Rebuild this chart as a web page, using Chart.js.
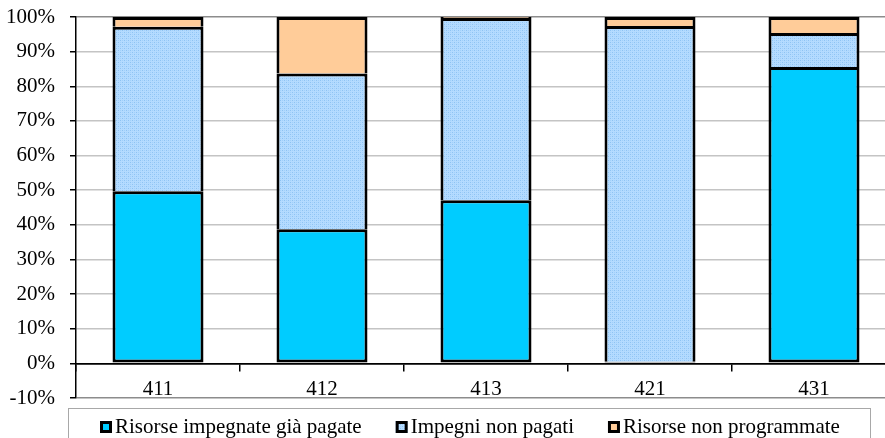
<!DOCTYPE html>
<html><head><meta charset="utf-8">
<script src="https://cdn.jsdelivr.net/npm/chart.js@4"></script>
<style>
html,body{margin:0;padding:0;overflow:hidden;background:#fff;width:885px;height:438px}
#wrap{position:absolute;left:0;top:0;width:896px;height:438px}
</style></head><body>
<div id="wrap"><canvas id="c" width="896" height="438"></canvas></div>
<script>
const categories = ['411', '412', '413', '421', '431'];
const seriesNames = ['Risorse impegnate già pagate', 'Impegni non pagati', 'Risorse non programmate'];
const pagate = [49.7, 38.7, 47.1, 0.5, 85.6];
const nonPagati = [47.5, 45.0, 52.6, 96.9, 9.8];
const nonProgrammate = [2.8, 16.3, 0.3, 2.6, 4.6];
const yTickValues = [-10, 0, 10, 20, 30, 40, 50, 60, 70, 80, 90, 100];

const FONT = '"Liberation Serif", "Times New Roman", serif';
const FSIZE = 21;

function makePattern() {
  const p = document.createElement('canvas');
  p.width = 4; p.height = 4;
  const g = p.getContext('2d');
  g.fillStyle = '#B4DBFF'; g.fillRect(0, 0, 4, 4);
  g.fillStyle = '#8EC3F3';
  g.fillRect(0, 0, 1, 1); g.fillRect(2, 2, 1, 1);
  g.fillStyle = '#A2D0FA';
  g.fillRect(2, 0, 1, 1); g.fillRect(0, 2, 1, 1);
  return document.getElementById('c').getContext('2d').createPattern(p, 'repeat');
}
const lightPattern = makePattern();
const fills = ['#00CCFF', lightPattern, '#FFCC99'];
const seriesData = [pagate, nonPagati, nonProgrammate];

const legendPlugin = {
  id: 'boxLegend',
  afterDraw(chart) {
    const ctx = chart.ctx;
    ctx.save();
    ctx.strokeStyle = '#a8a8a8';
    ctx.lineWidth = 1;
    ctx.strokeRect(68.5, 408.5, 802, 40);
    ctx.font = FSIZE + 'px ' + FONT;
    ctx.textBaseline = 'middle';
    let x = 100;
    seriesNames.forEach((name, i) => {
      ctx.fillStyle = fills[i];
      ctx.fillRect(x, 421, 12, 12);
      ctx.strokeStyle = '#000';
      ctx.lineWidth = 3;
      ctx.strokeRect(x + 1.5, 422.5, 9, 9);
      ctx.fillStyle = '#000';
      ctx.fillText(name, x + 15, 427);
      x += 15 + ctx.measureText(name).width + 34;
    });
    ctx.restore();
  }
};

const BW = 3;
new Chart(document.getElementById('c'), {
  type: 'bar',
  data: {
    labels: categories,
    datasets: seriesNames.map((name, i) => ({
      label: name,
      data: seriesData[i],
      backgroundColor: fills[i],
      borderColor: '#000',
      borderWidth: { left: BW, right: BW, top: BW, bottom: i === 0 ? BW : 0 },
      borderSkipped: false,
      categoryPercentage: 1,
      barPercentage: 0.555
    }))
  },
  options: {
    responsive: false,
    animation: false,
    devicePixelRatio: 1,
    layout: { padding: { left: 0, right: 0, top: 17, bottom: 40 } },
    plugins: { legend: { display: false }, tooltip: { enabled: false } },
    scales: {
      x: {
        stacked: true,
        position: { y: 0 },
        grid: { offset: true, drawOnChartArea: false, drawTicks: true, tickLength: 7, color: '#000', lineWidth: 1.5 },
        border: { display: true, color: '#000', width: 1.5 },
        ticks: { color: '#000', font: { family: FONT, size: FSIZE }, padding: 7 }
      },
      y: {
        stacked: true,
        min: -10, max: 100,
        afterBuildTicks: (s) => { s.ticks = yTickValues.map(v => ({ value: v })); },
        afterFit: (s) => { s.width = 76; s.paddingTop = 0; s.paddingBottom = 0; },
        grid: {
          color: (c) => (c.tick && (c.tick.value === -10 || c.tick.value === 100)) ? '#8c8c8c' : (c.tick && c.tick.value === 0 ? '#000' : '#c4c4c4'),
          lineWidth: 1.5,
          drawTicks: true, tickLength: 6, tickColor: '#000'
        },
        border: { display: true, color: '#000', width: 1.5 },
        ticks: { color: '#000', font: { family: FONT, size: FSIZE }, padding: 15, callback: (v) => v + '%' }
      }
    }
  },
  plugins: [legendPlugin]
});
</script>
</body></html>
